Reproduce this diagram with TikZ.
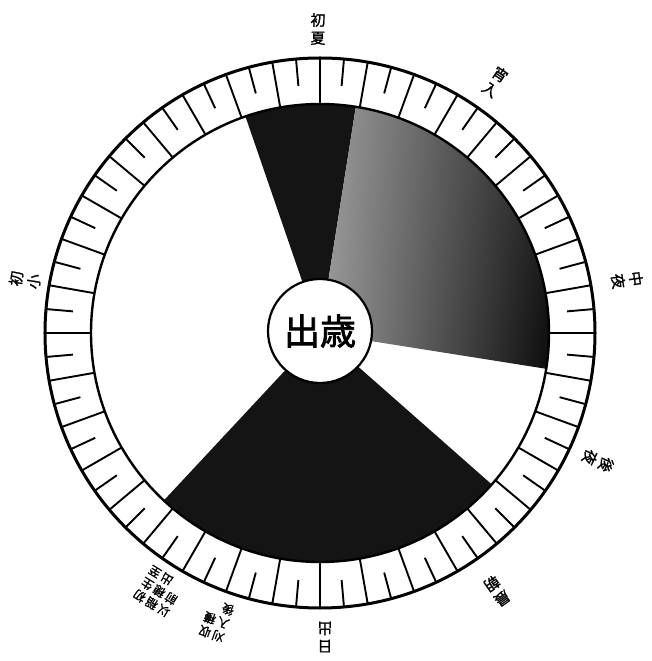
\documentclass[tikz,border=0pt]{standalone}
\usepackage{fontspec}
\usetikzlibrary{shadings}
\newfontfamily\cjk{Noto Sans CJK JP}[FakeBold=1.2]
\newfontfamily\cjkc{Noto Sans CJK JP}[FakeBold=2]
\begin{document}
\begin{tikzpicture}[x=1pt,y=1pt,
  lbl/.style={font=\cjk\fontsize{15}{18}\selectfont, align=center, inner sep=0pt},
  lblsm/.style={font=\cjk\fontsize{12}{14}\selectfont, align=center, inner sep=0pt},
  darksector/.style={fill=black!92},
  ringline/.style={line width=3},
  tickline/.style={line width=1.9}]
\useasboundingbox (-320,-328) rectangle (332,333);
\fill[white] (-320,-328) rectangle (332,333);
% sectors
\fill[darksector] (0,0) -- (81:229) arc[start angle=81,end angle=109,radius=229] -- cycle;
\begin{scope}
  \clip (0,0) -- (-9:229) arc[start angle=-9,end angle=81,radius=229] -- cycle;
  \shade[shading=bilinear interpolation, upper left=black!38, upper right=black!85, lower left=black!40, lower right=black!96] (0,-40) rectangle (232,232);
\end{scope}
\fill[darksector] (0,0) -- (227:229) arc[start angle=227,end angle=318.6,radius=229] -- cycle;
% ring
\draw[ringline] (0,0) circle[radius=275];
\draw[line width=2.4] (0,0) circle[radius=229];
\foreach \k in {0,...,71}{
  \pgfmathsetmacro\a{5*\k}
  \ifodd\k
    \draw[tickline] (\a:275) -- (\a:248);
  \else
    \draw[tickline] (\a:275) -- (\a:229);
  \fi
}
% centre
\node[circle, draw, line width=2.2, fill=white, minimum size=104, inner sep=0pt,
      font=\cjkc\fontsize{36}{38}\selectfont] (hub) at (0,2) {出歳};
% labels
\node[lbl] (ltop) at (-2,304) {初\\夏};
\node[lbl, rotate=-34] (lur) at (175,251) {宵\\入};
\node[lbl, rotate=-82] (lr) at (307,53) {中\\夜};
\node[lbl, rotate=-115] (llr) at (278,-128) {後\\夜};
\node[lbl, rotate=-145] (lbr) at (177,-258) {晨\\朝};
\node[lbl, rotate=180] (lb) at (5,-304) {日\\出};
\node[lblsm, rotate=148] (lbl1) at (-160,-257) {\begin{tabular}{@{}c@{\hspace{2pt}}c@{\hspace{2pt}}c@{}}以&稲&初\\前&穂&生\\ &出&至\end{tabular}};
\node[lblsm, rotate=160] (lbl2) at (-103,-286) {\begin{tabular}{@{}c@{\hspace{2pt}}c@{}}刈&収\\入&穫\\後&\end{tabular}};
\node[lbl, rotate=81] (ll) at (-295,53) {初\\小};
\end{tikzpicture}
\end{document}
